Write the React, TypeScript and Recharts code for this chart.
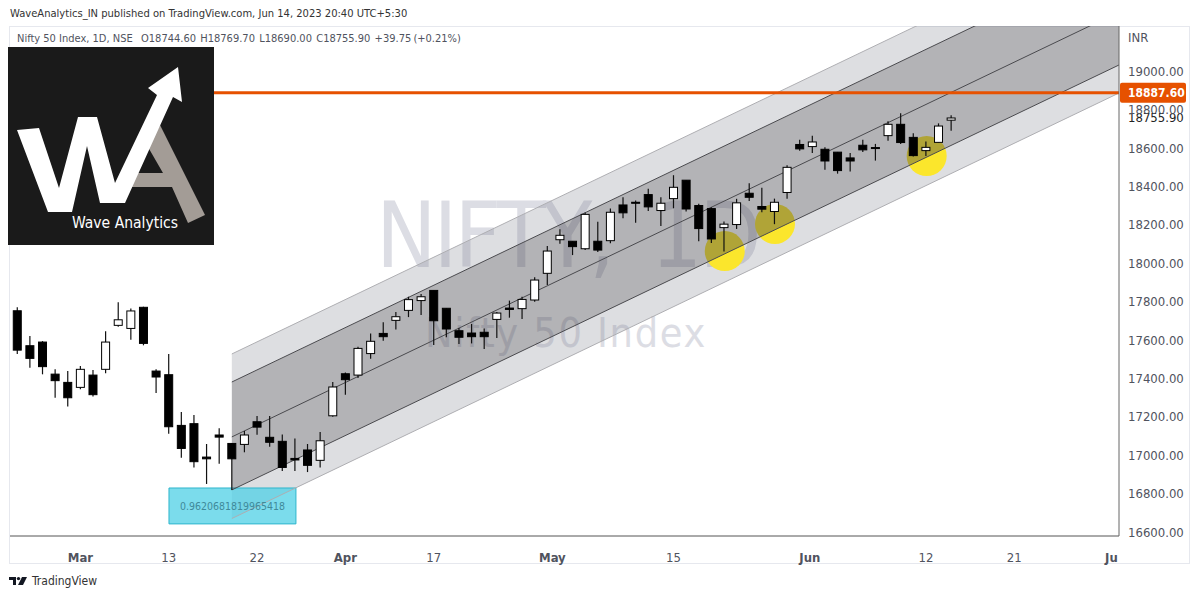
import React from "react";
import { ComposedChart, Area, Line, Bar, Scatter, XAxis, YAxis, ReferenceLine, ReferenceArea } from "recharts";

const highs = [17770,17620,17594,17448,17438,17464,17443,17645,17796,17764,17773,17447,17527,17225,17209,17058,17140,17063,17126,17204,17204,17107,17087,17058,17120,17381,17430,17565,17634,17692,17746,17825,17839,17858,17765,17662,17683,17659,17746,17805,17825,17926,18089,18176,18114,18263,18216,18284,18343,18326,18387,18343,18458,18432,18309,18291,18217,18335,18416,18392,18336,18510,18642,18663,18604,18579,18574,18642,18621,18739,18780,18676,18633,18728,18769.7];
const lows = [17527,17455,17421,17299,17254,17343,17306,17426,17669,17601,17572,17324,17112,16987,16936,16850,16955,16818,17015,17106,17044,16917,16917,16912,16936,17200,17315,17402,17502,17596,17655,17719,17730,17574,17614,17579,17582,17553,17610,17716,17709,17799,17886,18101,18042,18068,18058,18103,18234,18211,18272,18194,18286,18269,18114,18105,18060,18178,18324,18265,18203,18335,18585,18574,18486,18466,18477,18579,18534,18638,18621,18555,18558,18629,18690];
const opens = [17752,17570,17589,17422,17379,17353,17417,17447,17676,17660,17770,17438,17419,17155,17164,16990,17105,17061,17056,17174,17093,17072,16983,17027,16973,17205,17424,17417,17529,17634,17702,17754,17805,17858,17765,17648,17636,17640,17707,17766,17763,17808,17947,18122,18114,18075,18114,18117,18303,18317,18357,18274,18336,18432,18300,18284,18185,18201,18364,18295,18269,18368,18618,18607,18593,18578,18548,18614,18602,18664,18723,18655,18586,18629,18744.6];
const closes = [17547,17504,17461,17388,17299,17447,17315,17589,17705,17751,17582,17407,17148,17035,16966,16981,17094,16981,17105,17146,17067,16936,16975,16947,17075,17355,17393,17556,17593,17617,17721,17810,17825,17700,17657,17614,17617,17617,17740,17759,17811,17912,18063,18145,18086,18254,18068,18265,18262,18312,18293,18312,18395,18282,18180,18126,18203,18314,18343,18281,18317,18499,18595,18631,18532,18482,18532,18590,18597,18723,18628,18560,18603,18714,18755.9];

const channelXs = [17, 87.3];
const outerTop = [17527, 19741];
const innerTop = [17381, 19595];
const midLine = [17095, 19308];
const innerBottom = [16819, 19032];
const outerBottom = [16670, 18886];

const highlightXs = [56.06, 60.04, 72.06];
const highlightValues = [18063, 18204, 18558];

const xTickPositions = [5, 12, 19, 26, 33, 42.4, 52, 62.8, 72, 79, 86.7];
const xTickLabels = ["Mar", "13", "22", "Apr", "17", "May", "15", "Jun", "12", "21", "Ju"];
const boldLabels = ["Mar", "Apr", "May", "Jun", "Ju"];
const yTicks = [16600, 16800, 17000, 17200, 17400, 17600, 17800, 18000, 18200, 18400, 18600, 18800, 19000];

const resistance = 18887.6;
const lastClose = 18755.9;
const boxLabel = "0.9620681819965418";
const headerText = "WaveAnalytics_IN published on TradingView.com, Jun 14, 2023 20:40 UTC+5:30";
const legendName = "Nifty 50 Index, 1D, NSE";
const legendValues = "O18744.60  H18769.70  L18690.00  C18755.90  +39.75 (+0.21%)";

const candles = opens.map((o, i) => ({
  x: i,
  open: o,
  close: closes[i],
  high: highs[i],
  low: lows[i],
  range: [lows[i], highs[i]],
}));
const channelRows = channelXs.map((x, i) => ({
  x,
  outerTop: outerTop[i],
  innerTop: innerTop[i],
  midLine: midLine[i],
  innerBottom: innerBottom[i],
  outerBottom: outerBottom[i],
  upperBand: [innerTop[i], outerTop[i]],
  coreBand: [innerBottom[i], innerTop[i]],
  lowerBand: [outerBottom[i], innerBottom[i]],
}));
const highlightRows = highlightXs.map((x, i) => ({ x, value: highlightValues[i] }));

const FONT = "'DejaVu Sans', sans-serif";
const TEXT = "#50535e";
const BODY_WIDTH = 8;

function Candle(props: any) {
  const { x, y, width, height, payload } = props;
  const { open, close, high, low } = payload;
  const py = (v: number) => y + ((high - v) / (high - low)) * height;
  const cx = x + width / 2;
  const top = py(Math.max(open, close));
  const bottom = py(Math.min(open, close));
  const up = close >= open;
  return (
    <g>
      <line x1={cx} x2={cx} y1={y} y2={y + height} stroke="#111" strokeWidth={1.2} />
      <rect
        x={cx - BODY_WIDTH / 2}
        y={top}
        width={BODY_WIDTH}
        height={Math.max(bottom - top, 1)}
        fill={up ? "#fff" : "#000"}
        stroke="#000"
        strokeWidth={1}
      />
    </g>
  );
}

function Highlight(props: any) {
  return <circle cx={props.cx} cy={props.cy} r={20} fill="#fbe62c" />;
}

function XTick(props: any) {
  const { x, y, payload } = props;
  const label = xTickLabels[xTickPositions.indexOf(payload.value)];
  const bold = boldLabels.includes(label);
  return (
    <text x={x} y={y + 18} textAnchor="middle" fontFamily={FONT} fontStretch="condensed" fontSize={13} fontWeight={bold ? 700 : 400} fill={TEXT}>
      {label}
    </text>
  );
}

function PriceTag({ viewBox, value, bg, fg, bold, above, below }: any) {
  const { x, y, width } = viewBox;
  const right = x + width;
  return (
    <g>
      <rect x={right + 1} y={y - above} width={66} height={above + below} rx={2} fill={bg} />
      <text x={right + 9} y={y + 4.5} fontFamily={FONT} fontStretch="condensed" fontSize={bold ? 12 : 13} fontWeight={bold ? 700 : 400} fill={fg}>
        {value}
      </text>
    </g>
  );
}

function Logo() {
  return (
    <svg width={1200} height={598} style={{ position: "absolute", left: 0, top: 0, pointerEvents: "none" }}>
      <rect x={8} y={47} width={206} height={198} fill="#1a1a1a" />
      <polygon
        fill="#a39c96"
        points="160,125 205,215 188,223 172,187 131,187 138,173 163,173 148,147"
      />
      <polygon
        fill="#fff"
        points="17,130 39,128 59,188 78,117 97,117 115,183 157,95 148,88 178,67 182,102 173,97 125,203 100,203 87,146 72,212 48,212"
      />
      <text x={125} y={228} textAnchor="middle" fontFamily={FONT} fontStretch="condensed" fontSize={15.5} fill="#fff">
        Wave Analytics
      </text>
    </svg>
  );
}

export default function App() {
  const zProps = (z: number): any => ({ zIndex: z });
  return (
    <div style={{ position: "absolute", left: 0, top: 0, width: 1200, height: 598, background: "#fff", overflow: "hidden", fontFamily: FONT, fontStretch: "condensed" }}>
      <div style={{ position: "absolute", left: 9, top: 26, width: 1181, height: 538, border: "1px solid #e6e8ee", boxSizing: "border-box" }} />
      <div style={{ position: "absolute", left: 376, top: 176, fontSize: 90, letterSpacing: -3, wordSpacing: 16, color: "#dcdde4", whiteSpace: "nowrap", lineHeight: "120px" }}>NIFTY, 1D</div>
      <div style={{ position: "absolute", left: 425, top: 306, fontSize: 41, letterSpacing: 1.7, color: "#dcdde4", whiteSpace: "nowrap", lineHeight: "54px" }}>Nifty 50 Index</div>
      <div style={{ position: "absolute", left: 0, top: 0 }}>
        <ComposedChart
          width={1200}
          height={598}
          data={candles}
          margin={{ top: 26, right: 0, left: 10, bottom: 34 }}
        >
          <XAxis
            dataKey="x"
            type="number"
            domain={[-0.578, 87.3]}
            allowDataOverflow
            ticks={xTickPositions}
            interval={0}
            height={28}
            tickLine={false}
            axisLine={{ stroke: "#555" }}
            tick={<XTick />}
          />
          <YAxis
            orientation="right"
            width={81}
            domain={[16579, 19235]}
            allowDataOverflow
            ticks={yTicks}
            interval={0}
            tickLine={false}
            tickSize={0}
            tickMargin={9}
            axisLine={{ stroke: "#666" }}
            tick={{ fontFamily: FONT, fontStretch: "condensed", fontSize: 13, fill: TEXT } as any}
            tickFormatter={(v: number) => v.toFixed(2)}
          />
          <Area {...zProps(100)} data={channelRows} dataKey="upperBand" stroke="none" fill="#787b86" fillOpacity={0.25} isAnimationActive={false} />
          <Area {...zProps(100)} data={channelRows} dataKey="lowerBand" stroke="none" fill="#787b86" fillOpacity={0.25} isAnimationActive={false} />
          <Scatter {...zProps(110)} data={highlightRows} dataKey="value" shape={<Highlight />} isAnimationActive={false} />
          <Area {...zProps(120)} data={channelRows} dataKey="coreBand" stroke="none" fill="#404048" fillOpacity={0.4} isAnimationActive={false} />
          <Line {...zProps(130)} data={channelRows} dataKey="outerTop" stroke="#aeaeb2" strokeWidth={1} dot={false} isAnimationActive={false} />
          <Line {...zProps(130)} data={channelRows} dataKey="innerTop" stroke="#4a4a4e" strokeWidth={1} dot={false} isAnimationActive={false} />
          <Line {...zProps(130)} data={channelRows} dataKey="midLine" stroke="#4a4a4e" strokeWidth={1} dot={false} isAnimationActive={false} />
          <Line {...zProps(130)} data={channelRows} dataKey="innerBottom" stroke="#4a4a4e" strokeWidth={1} dot={false} isAnimationActive={false} />
          <Line {...zProps(130)} data={channelRows} dataKey="outerBottom" stroke="#aeaeb2" strokeWidth={1} dot={false} isAnimationActive={false} />
          <Bar {...zProps(140)} dataKey="range" barSize={9} shape={<Candle />} isAnimationActive={false} />
          <ReferenceArea
            x1={12.02}
            x2={22.08}
            y1={16642}
            y2={16829}
            fill="#4fd0e6"
            fillOpacity={0.75}
            stroke="#2eb6cc"
            strokeOpacity={1}
            label={{ value: boxLabel, position: "center", fill: "#3f8a9a", fontSize: 10.5, fontFamily: FONT, fontStretch: "condensed" } as any}
          />
          <ReferenceLine
            y={lastClose}
            stroke="none"
            label={(p: any) => <PriceTag {...p} value={lastClose.toFixed(2)} bg="#fff" fg="#222" above={8} below={10} />}
          />
          <ReferenceLine
            y={resistance}
            stroke="#e65100"
            strokeWidth={3}
            label={(p: any) => <PriceTag {...p} value={resistance.toFixed(2)} bg="#e65100" fg="#fff" bold above={10} below={10} />}
          />
        </ComposedChart>
      </div>
      <Logo />
      <div style={{ position: "absolute", left: 10, top: 7, fontSize: 11.1, color: "#333", whiteSpace: "nowrap" }}>{headerText}</div>
      <div style={{ position: "absolute", left: 17, top: 32, fontSize: 11, color: TEXT, whiteSpace: "pre" }}>{legendName}</div>
      <div style={{ position: "absolute", left: 141, top: 32, fontSize: 11, wordSpacing: -1, color: TEXT, whiteSpace: "pre" }}>{legendValues}</div>
      <div style={{ position: "absolute", left: 1128, top: 30, fontSize: 13, color: TEXT }}>INR</div>
      <svg width={22} height={12} style={{ position: "absolute", left: 8, top: 575 }}>
        <polygon points="1,2 8,2 8,10 5,10 5,5 1,5" fill="#131722" />
        <circle cx={10.5} cy={3.6} r={1.7} fill="#131722" />
        <polygon points="14,2 19,2 15,10 10,10" fill="#131722" />
      </svg>
      <div style={{ position: "absolute", left: 32, top: 574, fontSize: 12, color: "#333" }}>TradingView</div>
    </div>
  );
}
